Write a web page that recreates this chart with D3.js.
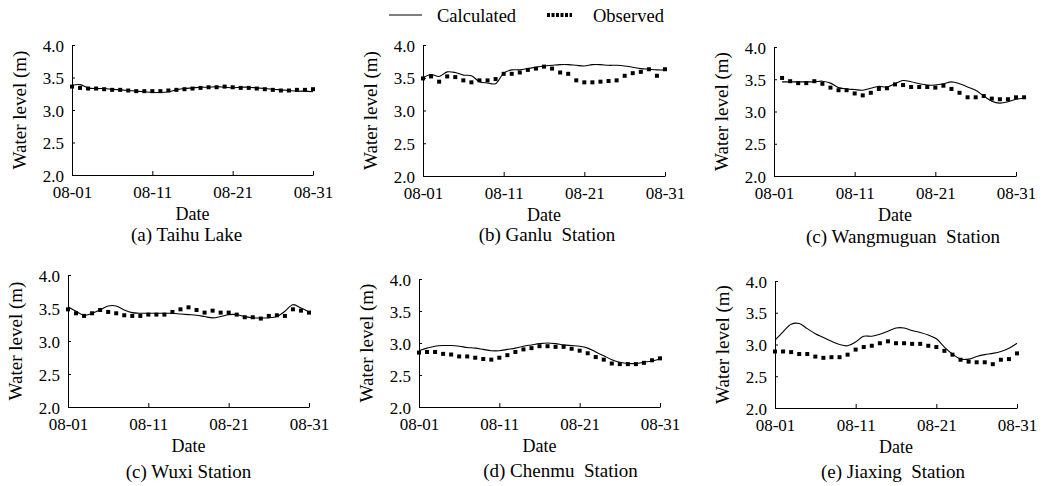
<!DOCTYPE html>
<html>
<head>
<meta charset="utf-8">
<script src="https://cdn.jsdelivr.net/npm/d3@7"></script>
<style>
  body { margin: 0; background: #fff; }
  text { font-family: "Liberation Serif", "DejaVu Serif", serif; }
</style>
</head>
<body>
<div id="chart"></div>
<script>
// day of August for each daily value (32 = 09-01)
const days = [1,2,3,4,5,6,7,8,9,10,11,12,13,14,15,16,17,18,19,20,21,22,23,24,25,26,27,28,29,30,31];
const daysLate = [2,3,4,5,6,7,8,9,10,11,12,13,14,15,16,17,18,19,20,21,22,23,24,25,26,27,28,29,30,31,32];

const tickDays = [1, 11, 21, 31];
const tickLabels = ["08-01", "08-11", "08-21", "08-31"];
const levelTicks = [2.0, 2.5, 3.0, 3.5, 4.0];

// water level (m)
const taihuCalc = [3.38,3.39,3.34,3.33,3.33,3.32,3.31,3.30,3.29,3.28,3.27,3.27,3.28,3.31,3.33,3.34,3.35,3.35,3.36,3.35,3.34,3.35,3.35,3.34,3.33,3.32,3.31,3.30,3.29,3.29,3.28];
const taihuObs  = [3.36,3.34,3.33,3.33,3.32,3.31,3.31,3.30,3.29,3.29,3.29,3.29,3.30,3.31,3.32,3.33,3.34,3.35,3.35,3.36,3.35,3.34,3.34,3.33,3.32,3.31,3.30,3.30,3.31,3.31,3.32];

const ganluCalc = [3.50,3.55,3.52,3.59,3.58,3.54,3.53,3.44,3.42,3.41,3.57,3.62,3.62,3.64,3.66,3.68,3.69,3.70,3.70,3.69,3.68,3.70,3.70,3.69,3.69,3.68,3.66,3.64,3.63,3.62,3.62];
const ganluObs  = [3.49,3.52,3.44,3.52,3.51,3.46,3.43,3.46,3.46,3.48,3.56,3.56,3.58,3.62,3.64,3.67,3.64,3.58,3.56,3.46,3.43,3.43,3.44,3.45,3.46,3.53,3.57,3.59,3.63,3.53,3.63];

const wangCalc = [3.46,3.46,3.46,3.46,3.46,3.47,3.44,3.37,3.35,3.34,3.33,3.36,3.39,3.38,3.43,3.48,3.46,3.43,3.41,3.41,3.43,3.46,3.43,3.38,3.33,3.24,3.16,3.13,3.15,3.19,3.21];
const wangObs  = [3.52,3.47,3.44,3.44,3.47,3.43,3.37,3.33,3.33,3.28,3.25,3.29,3.35,3.36,3.42,3.41,3.38,3.38,3.38,3.37,3.40,3.35,3.29,3.22,3.22,3.24,3.20,3.19,3.19,3.22,3.22];

const wuxiCalc = [3.52,3.45,3.39,3.42,3.47,3.53,3.53,3.47,3.43,3.42,3.42,3.42,3.42,3.42,3.41,3.40,3.39,3.37,3.35,3.37,3.40,3.40,3.37,3.35,3.35,3.35,3.37,3.45,3.55,3.50,3.44];
const wuxiObs  = [3.48,3.42,3.38,3.42,3.47,3.44,3.42,3.39,3.38,3.38,3.40,3.40,3.40,3.44,3.48,3.51,3.47,3.43,3.46,3.43,3.43,3.40,3.36,3.36,3.34,3.38,3.39,3.38,3.48,3.46,3.43];

const chenmuCalc = [2.88,2.92,2.95,2.96,2.96,2.95,2.93,2.92,2.90,2.88,2.88,2.90,2.92,2.95,2.97,2.99,3.00,2.99,2.97,2.96,2.95,2.92,2.86,2.80,2.74,2.70,2.68,2.68,2.70,2.72,2.75];
const chenmuObs  = [2.85,2.86,2.86,2.83,2.82,2.79,2.79,2.77,2.75,2.74,2.77,2.81,2.86,2.90,2.92,2.95,2.95,2.94,2.94,2.91,2.88,2.84,2.78,2.74,2.68,2.67,2.67,2.67,2.69,2.73,2.76];

const jiaxingCalc = [3.07,3.20,3.32,3.33,3.25,3.17,3.11,3.05,3.00,2.98,3.04,3.13,3.13,3.16,3.21,3.26,3.26,3.22,3.19,3.15,3.09,2.96,2.85,2.77,2.77,2.81,2.84,2.86,2.89,2.94,3.02];
const jiaxingObs  = [2.89,2.89,2.88,2.85,2.85,2.81,2.79,2.80,2.80,2.84,2.92,2.96,2.98,3.02,3.05,3.02,3.02,3.01,3.01,2.98,2.96,2.90,2.84,2.76,2.73,2.72,2.72,2.69,2.76,2.77,2.86];

const captions = ["(a) Taihu Lake", "(b) Ganlu  Station", "(c) Wangmuguan  Station",
                  "(c) Wuxi Station", "(d) Chenmu  Station", "(e) Jiaxing  Station"];
const calcSeries = [taihuCalc, ganluCalc, wangCalc, wuxiCalc, chenmuCalc, jiaxingCalc];
const obsSeries  = [taihuObs, ganluObs, wangObs, wuxiObs, chenmuObs, jiaxingObs];
const daySeries  = [days, days, daysLate, days, days, days];

// panel frames (plot area in px)
const frames = [
  { x0: 72,  x1: 313,  yTop: 45,  yBot: 175, capDx: -6, capDy: 66 },
  { x0: 423, x1: 665,  yTop: 45,  yBot: 176, capDx: 3,  capDy: 65 },
  { x0: 774, x1: 1016, yTop: 47,  yBot: 176, capDx: 8,  capDy: 67 },
  { x0: 68,  x1: 309,  yTop: 275, yBot: 407, capDx: 0,  capDy: 71 },
  { x0: 419, x1: 660,  yTop: 279, yBot: 407, capDx: 21, capDy: 70 },
  { x0: 775, x1: 1017, yTop: 281, yBot: 408, capDx: -3, capDy: 70 }
];

const serif = "Liberation Serif, DejaVu Serif, serif";
const width = 1043, height = 486;
const svg = d3.select("#chart").append("svg")
  .attr("width", width).attr("height", height)
  .attr("font-family", serif);
svg.append("rect").attr("width", width).attr("height", height).attr("fill", "#fff");

frames.forEach(function (f, i) {
  let x = d3.scaleLinear().domain([1, 31]).range([f.x0, f.x1]);
  let y = d3.scaleLinear().domain([2, 4]).range([f.yBot, f.yTop]);
  let g = svg.append("g");

  let xAxis = g.append("g")
    .attr("transform", "translate(0," + f.yBot + ")")
    .call(d3.axisBottom(x).tickValues(tickDays)
      .tickFormat((d, k) => tickLabels[k])
      .tickSizeInner(-4).tickSizeOuter(0).tickPadding(11));

  let yAxis = g.append("g")
    .attr("transform", "translate(" + f.x0 + ",0)")
    .call(d3.axisLeft(y).tickValues(levelTicks)
      .tickFormat(d3.format(".1f"))
      .tickSizeInner(-3).tickSizeOuter(0).tickPadding(8));
  yAxis.selectAll(".tick text").attr("dy", "0.36em");

  [xAxis, yAxis].forEach(function (a) {
    a.attr("font-family", serif).attr("font-size", 17);
    a.selectAll("text").attr("fill", "#000");
    a.selectAll("path, line").attr("stroke", "#000").attr("stroke-width", 1);
  });

  let pts = daySeries[i].map((d, k) => ({ day: d, calc: calcSeries[i][k], obs: obsSeries[i][k] }));

  let line = d3.line()
    .x(d => x(d.day))
    .y(d => y(d.calc))
    .curve(d3.curveCatmullRom.alpha(0.5));

  g.append("path")
    .datum(pts)
    .attr("d", line)
    .attr("fill", "none")
    .attr("stroke", "#000")
    .attr("stroke-width", 1.1);

  g.selectAll(".obs")
    .data(pts)
    .enter()
    .append("rect")
    .attr("class", "obs")
    .attr("x", d => x(d.day) - 2)
    .attr("y", d => y(d.obs) - 2)
    .attr("width", 4)
    .attr("height", 4)
    .attr("fill", "#000");

  let cx = (f.x0 + f.x1) / 2;
  g.append("text")
    .attr("x", cx)
    .attr("y", f.yBot + 45)
    .attr("text-anchor", "middle")
    .attr("font-size", 18)
    .text("Date");

  g.append("text")
    .attr("x", cx + f.capDx)
    .attr("y", f.yBot + f.capDy)
    .attr("text-anchor", "middle")
    .attr("font-size", 19)
    .style("white-space", "pre")
    .text(captions[i]);

  g.append("text")
    .attr("transform", "translate(" + (f.x0 - 46) + "," + ((f.yTop + f.yBot) / 2) + ") rotate(-90)")
    .attr("text-anchor", "middle")
    .attr("font-size", 19)
    .text("Water level (m)");
});

// legend
let legend = svg.append("g");
legend.append("line")
  .attr("x1", 389).attr("x2", 422).attr("y1", 15).attr("y2", 15)
  .attr("stroke", "#000").attr("stroke-width", 1.2);
legend.append("text").attr("x", 437).attr("y", 22).attr("font-size", 18.5).text("Calculated");
legend.append("line")
  .attr("x1", 547).attr("x2", 572).attr("y1", 15).attr("y2", 15)
  .attr("stroke", "#000").attr("stroke-width", 4).attr("stroke-dasharray", "3,1.5");
legend.append("text").attr("x", 593).attr("y", 22).attr("font-size", 18.5).text("Observed");
</script>
</body>
</html>
